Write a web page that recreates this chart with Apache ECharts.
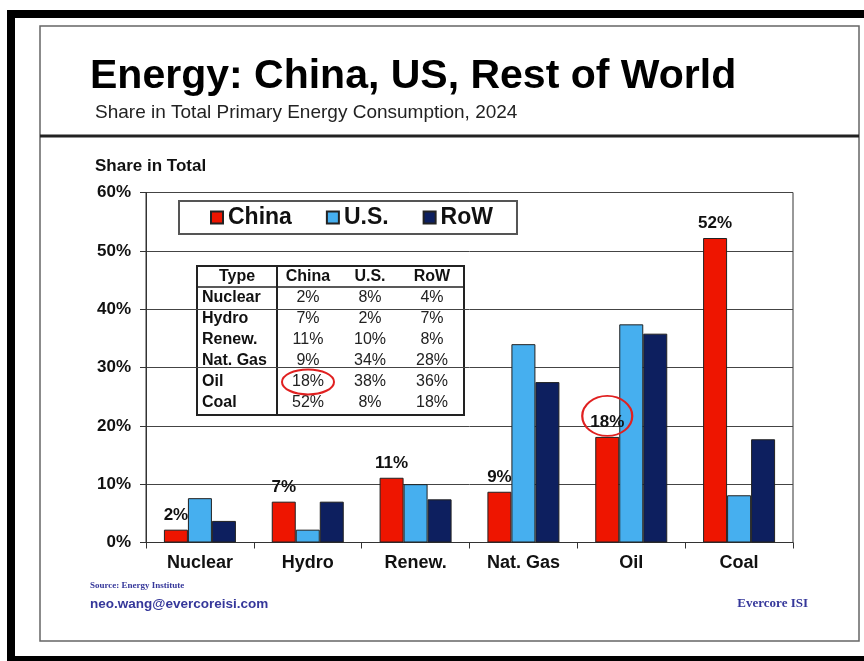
<!DOCTYPE html>
<html><head><meta charset="utf-8">
<script src="https://cdn.jsdelivr.net/npm/echarts@6/dist/echarts.min.js"></script>
<style>html,body{margin:0;padding:0;background:#fff}#c{width:864px;height:661px}</style>
</head><body><div id="c"></div>
<script>
const categories = ['Nuclear', 'Hydro', 'Renew.', 'Nat. Gas', 'Oil', 'Coal'];
const china = [2.2, 7.0, 11.1, 8.7, 18.1, 52.2];
const us = [7.6, 2.2, 10.0, 34.0, 37.4, 8.1];
const row = [3.7, 7.0, 7.4, 27.5, 35.8, 17.7];
const yMin = 0, yMax = 60, yStep = 10;
const seriesNames = ['China', 'U.S.', 'RoW'];
const tableHeader = ['Type', 'China', 'U.S.', 'RoW'];
const tableTypes = ['Nuclear', 'Hydro', 'Renew.', 'Nat. Gas', 'Oil', 'Coal'];
const tableChina = ['2%', '7%', '11%', '9%', '18%', '52%'];
const tableUS = ['8%', '2%', '10%', '34%', '38%', '8%'];
const tableRoW = ['4%', '7%', '8%', '28%', '36%', '18%'];
const highlightCategory = 'Oil';

const RED = '#EE1500', BLUE = '#46AFEF', NAVY = '#0D1F5F';
const SANS = 'Liberation Sans, Arial, sans-serif';
const SERIF = 'Liberation Serif, Times New Roman, serif';
const FOOT = '#35379A';

const chart = echarts.init(document.getElementById('c'), null, {renderer: 'canvas'});

// table graphics
const tbl = {x: 197, y: 266, w: 267, h: 149, colX: [202, 308, 370, 432], headY: 277, rowY0: 297.5, rowH: 21.1, div: 277, hdiv: 287};
const tableEls = [];
tableEls.push({type: 'rect', shape: {x: tbl.x, y: tbl.y, width: tbl.w, height: tbl.h}, style: {fill: '#fff', stroke: '#222', lineWidth: 2}});
tableEls.push({type: 'line', shape: {x1: tbl.div, y1: tbl.y, x2: tbl.div, y2: tbl.y + tbl.h}, style: {stroke: '#222', lineWidth: 2}});
tableEls.push({type: 'line', shape: {x1: tbl.x, y1: tbl.hdiv, x2: tbl.x + tbl.w, y2: tbl.hdiv}, style: {stroke: '#222', lineWidth: 1.5}});
tableHeader.forEach((h, i) => {
  tableEls.push({type: 'text', style: {text: h, x: i === 0 ? 237 : tbl.colX[i], y: tbl.headY, textAlign: 'center', textVerticalAlign: 'middle', font: 'bold 16px ' + SANS, fill: '#111'}});
});
tableTypes.forEach((t, r) => {
  const y = tbl.rowY0 + r * tbl.rowH;
  tableEls.push({type: 'text', style: {text: t, x: tbl.colX[0], y: y, textAlign: 'left', textVerticalAlign: 'middle', font: 'bold 16px ' + SANS, fill: '#111'}});
  [tableChina, tableUS, tableRoW].forEach((col, c) => {
    tableEls.push({type: 'text', style: {text: col[r], x: tbl.colX[c + 1], y: y, textAlign: 'center', textVerticalAlign: 'middle', font: '16px ' + SANS, fill: '#222'}});
  });
});
const hiRow = tableTypes.indexOf(highlightCategory);
tableEls.push({type: 'ellipse', shape: {cx: tbl.colX[1], cy: tbl.rowY0 + hiRow * tbl.rowH, rx: 26, ry: 12.5}, style: {fill: 'none', stroke: '#E02020', lineWidth: 2}});

const option = {
  animation: false,
  backgroundColor: '#fff',
  grid: {left: 146, right: 71, top: 192.5, bottom: 118.5, show: true, borderColor: '#333', borderWidth: 1, backgroundColor: 'transparent'},
  legend: {
    data: seriesNames.map(n => ({name: n, icon: 'rect'})),
    left: 179, top: 201,
    padding: [5, 24, 5, 31],
    itemWidth: 12, itemHeight: 12, itemGap: 34,
    backgroundColor: '#fff', borderColor: '#555', borderWidth: 2,
    textStyle: {fontFamily: SANS, fontWeight: 'bold', fontSize: 23, color: '#111', padding: [0, 0, 0, 0]},
    selectedMode: false
  },
  xAxis: {
    type: 'category', data: categories,
    axisLine: {show: true, lineStyle: {color: '#333', width: 1}},
    axisTick: {show: true, length: 6, lineStyle: {color: '#333'}},
    axisLabel: {fontFamily: SANS, fontWeight: 'bold', fontSize: 18, color: '#111', margin: 12},
    splitLine: {show: false}
  },
  yAxis: {
    type: 'value', min: yMin, max: yMax, interval: yStep,
    axisLine: {show: true, lineStyle: {color: '#333', width: 1}},
    axisTick: {show: true, length: 6, inside: false, lineStyle: {color: '#333'}},
    axisLabel: {formatter: '{value}%', fontFamily: SANS, fontWeight: 'bold', fontSize: 17, color: '#111', margin: 15},
    splitLine: {show: true, lineStyle: {color: '#444', width: 1}}
  },
  series: [
    {
      name: seriesNames[0], type: 'bar', data: china, barWidth: 24, barGap: '0%',
      itemStyle: {color: RED, borderColor: '#222', borderWidth: 1},
      label: {show: true, position: 'top', distance: 6, formatter: p => Math.round(p.value) + '%', fontFamily: SANS, fontWeight: 'bold', fontSize: 17, color: '#111'},
      markPoint: {
        symbol: 'circle', symbolSize: [50, 40], symbolOffset: [0, -21],
        itemStyle: {color: 'rgba(0,0,0,0)', borderColor: '#E02020', borderWidth: 2},
        label: {show: false},
        data: [{coord: [highlightCategory, china[categories.indexOf(highlightCategory)]]}],
        z: 10
      },
      z: 2
    },
    {name: seriesNames[1], type: 'bar', data: us, barWidth: 24, itemStyle: {color: BLUE, borderColor: '#222', borderWidth: 1}, z: 2},
    {name: seriesNames[2], type: 'bar', data: row, barWidth: 24, itemStyle: {color: NAVY, borderColor: '#222', borderWidth: 1}, z: 2}
  ],
  graphic: [
    {type: 'rect', shape: {x: 7, y: 10, width: 857, height: 8}, style: {fill: '#000'}, z: 100},
    {type: 'rect', shape: {x: 7, y: 10, width: 8, height: 651}, style: {fill: '#000'}, z: 100},
    {type: 'rect', shape: {x: 7, y: 656, width: 857, height: 5}, style: {fill: '#000'}, z: 100},
    {type: 'rect', shape: {x: 40, y: 26, width: 819, height: 615}, style: {fill: 'none', stroke: '#666', lineWidth: 1.5}, z: 100},
    {type: 'line', shape: {x1: 40, y1: 136, x2: 859, y2: 136}, style: {stroke: '#222', lineWidth: 3}, z: 100},
    {type: 'text', style: {text: 'Energy: China, US, Rest of World', x: 90, y: 77, textVerticalAlign: 'middle', font: 'bold 41px ' + SANS, fill: '#000'}, z: 100},
    {type: 'text', style: {text: 'Share in Total Primary Energy Consumption, 2024', x: 95, y: 113, textVerticalAlign: 'middle', font: '19px ' + SANS, fill: '#222'}, z: 100},
    {type: 'text', style: {text: 'Share in Total', x: 95, y: 166, textVerticalAlign: 'middle', font: 'bold 17px ' + SANS, fill: '#111'}, z: 100},
    {type: 'text', style: {text: 'Source: Energy Institute', x: 90, y: 586, textVerticalAlign: 'middle', font: 'bold 9px ' + SERIF, fill: FOOT}, z: 100},
    {type: 'text', style: {text: 'neo.wang@evercoreisi.com', x: 90, y: 604, textVerticalAlign: 'middle', font: 'bold 13.5px ' + SANS, fill: FOOT}, z: 100},
    {type: 'text', style: {text: 'Evercore ISI', x: 808, y: 604, textAlign: 'right', textVerticalAlign: 'middle', font: 'bold 13px ' + SERIF, fill: FOOT}, z: 100},
    {type: 'group', children: tableEls, z: 50}
  ]
};
chart.setOption(option);
</script>
</body></html>
